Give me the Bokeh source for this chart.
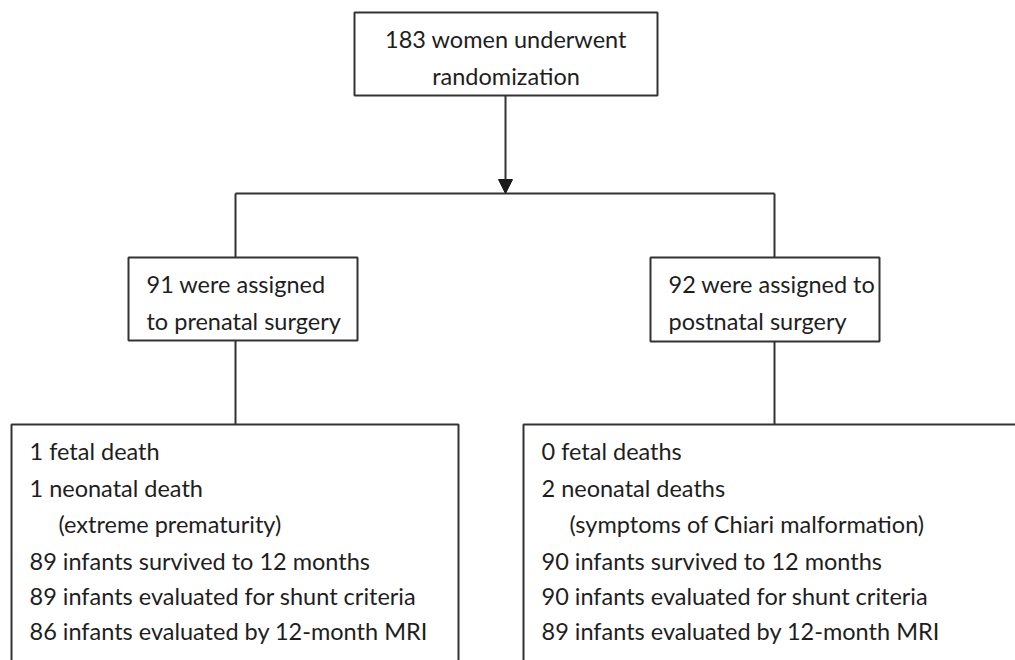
from bokeh.plotting import figure
from bokeh.models import Range1d, Arrow, NormalHead
from bokeh.core.properties import value
from bokeh.embed import file_html
from bokeh.resources import INLINE

# ---- content ----
top_lines = ["183 women underwent", "randomization"]
left_mid_lines = ["91 were assigned", "to prenatal surgery"]
right_mid_lines = ["92 were assigned to", "postnatal surgery"]
left_bottom_lines = ["1 fetal death", "1 neonatal death", "(extreme prematurity)",
                     "89 infants survived to 12 months",
                     "89 infants evaluated for shunt criteria",
                     "86 infants evaluated by 12-month MRI"]
right_bottom_lines = ["0 fetal deaths", "2 neonatal deaths", "(symptoms of Chiari malformation)",
                      "90 infants survived to 12 months",
                      "90 infants evaluated for shunt criteria",
                      "89 infants evaluated by 12-month MRI"]
indented = [False, False, True, False, False, False]

LINE = "#333333"
TXT = "#1e1e1e"
FONT = value("Lato")
FS = "23.5px"

p = figure(width=1015, height=660, output_backend="svg", toolbar_location=None,
           x_range=Range1d(0, 1015), y_range=Range1d(660, 0),
           min_border=0, min_border_left=0, min_border_right=0,
           min_border_top=0, min_border_bottom=0)
p.axis.visible = False
p.grid.visible = False
p.outline_line_color = None
p.background_fill_color = "white"

# boxes
boxes = dict(left=[354, 128, 650, 11, 523],
             right=[657, 357, 879, 458, 1060],
             top=[12, 257, 257, 424, 424],
             bottom=[95, 340, 341, 720, 720])
p.quad(left=boxes["left"], right=boxes["right"], top=boxes["top"], bottom=boxes["bottom"],
       fill_color=None, line_color=LINE, line_width=2)

# connectors
p.segment(x0=[235, 235, 774, 235, 774], y0=[193, 193, 193, 340, 341],
          x1=[774, 235, 774, 235, 774], y1=[193, 257, 257, 424, 424],
          line_color=LINE, line_width=2)
p.add_layout(Arrow(x_start=505, y_start=95, x_end=505, y_end=193,
                   line_color=LINE, line_width=2,
                   end=NormalHead(size=14, fill_color="#1a1a1a", line_color="#1a1a1a")))

# texts
p.text(x=[505.5] * len(top_lines), y=[38, 75], text=top_lines,
       text_align="center", text_baseline="middle", text_font=FONT,
       text_font_size=FS, text_color=TXT)
p.text(x=[146] * 2, y=[283, 320], text=left_mid_lines,
       text_baseline="middle", text_font=FONT, text_font_size=FS, text_color=TXT)
p.text(x=[668] * 2, y=[283, 320], text=right_mid_lines,
       text_baseline="middle", text_font=FONT, text_font_size=FS, text_color=TXT)
ys = [450, 487, 523, 560, 595, 630]
p.text(x=[58 if i else 29 for i in indented], y=ys, text=left_bottom_lines,
       text_baseline="middle", text_font=FONT, text_font_size=FS, text_color=TXT)
p.text(x=[569 if i else 541 for i in indented], y=ys, text=right_bottom_lines,
       text_baseline="middle", text_font=FONT, text_font_size=FS, text_color=TXT)

open("out.html", "w").write(file_html(p, INLINE))
